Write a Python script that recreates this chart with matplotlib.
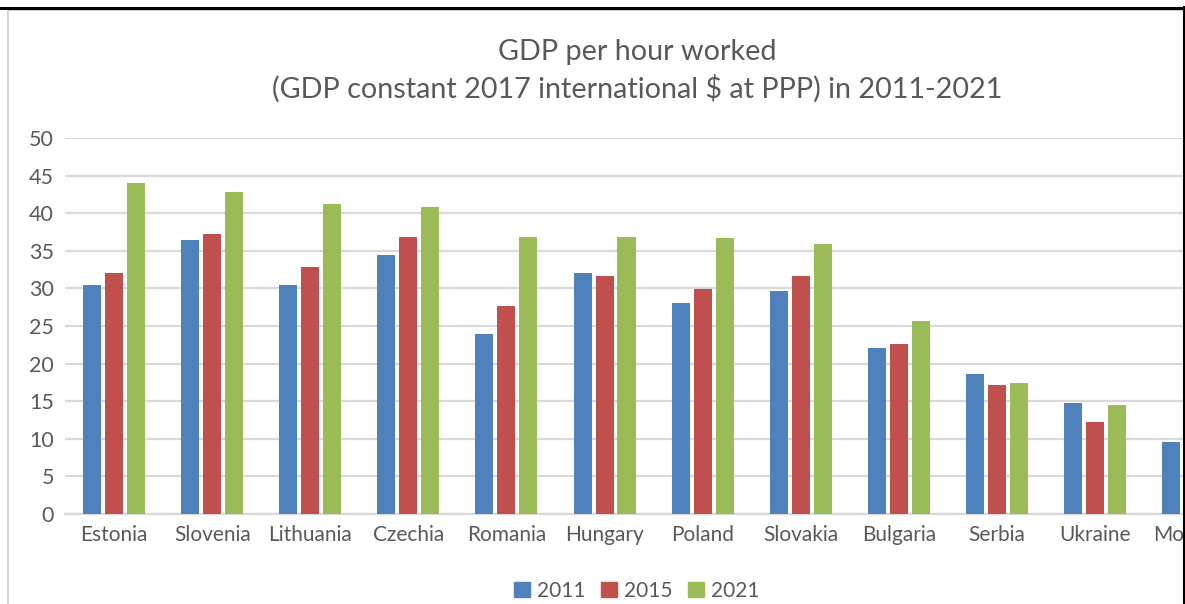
import numpy as np
import matplotlib
matplotlib.use("Agg")
import matplotlib.pyplot as plt
from matplotlib.lines import Line2D
from matplotlib.patches import Patch

countries = ["Estonia", "Slovenia", "Lithuania", "Czechia", "Romania", "Hungary",
             "Poland", "Slovakia", "Bulgaria", "Serbia", "Ukraine", "Moldova"]
years = ["2011", "2015", "2021"]
v2011 = [30.4, 36.4, 30.4, 34.4, 23.9, 32.0, 28.0, 29.6, 22.1, 18.6, 14.8, 9.6]
v2015 = [32.0, 37.2, 32.9, 36.8, 27.6, 31.7, 29.9, 31.6, 22.6, 17.2, 12.2, np.nan]
v2021 = [44.0, 42.8, 41.2, 40.8, 36.9, 36.8, 36.7, 35.9, 25.6, 17.4, 14.5, np.nan]
colors = ["#4F81BD", "#C0504D", "#9BBB59"]
yticks = [0, 5, 10, 15, 20, 25, 30, 35, 40, 45, 50]

FONT = "Lato"
TXT = "#595959"
W, H = 1185, 604
fig = plt.figure(figsize=(W / 100, H / 100), dpi=100)
fig.patch.set_facecolor("white")

# axes placement in pixels
left_px, right_px = 65, 114 + 11.5 * 98.1
bot_px, top_px = 513.7, 138.3
ax = fig.add_axes([left_px / W, (H - bot_px) / H, (right_px - left_px) / W, (bot_px - top_px) / H])

x = np.arange(len(countries))
bw = 0.184
off = 0.224
for i, (vals, c) in enumerate(zip([v2011, v2015, v2021], colors)):
    ax.bar(x + (i - 1) * off, vals, width=bw, color=c, zorder=3, clip_on=False)

ax.set_xlim(-0.5, len(countries) - 0.5)
ax.set_ylim(0, 50)
ax.set_yticks(yticks)
ax.yaxis.grid(True, color="#D9D9D9", linewidth=1.6, zorder=0)
ax.set_axisbelow(True)
for s in ["top", "right", "left"]:
    ax.spines[s].set_visible(False)
ax.spines["bottom"].set_color("#D9D9D9")
ax.spines["bottom"].set_linewidth(1.6)
ax.tick_params(axis="both", length=0, labelcolor=TXT)
ax.tick_params(axis="y", pad=8, labelsize=15.5)
ax.tick_params(axis="x", pad=8, labelsize=15)
ax.set_xticks(x)
ax.set_xticklabels(countries, fontfamily=FONT)
for lab in ax.get_yticklabels():
    lab.set_fontfamily(FONT)

fig.text(637 / W, 1 - 52 / H, "GDP per hour worked", ha="center", va="center",
         fontsize=20.7, color=TXT, fontfamily=FONT)
fig.text(637 / W, 1 - 89 / H, "(GDP constant 2017 international $ at PPP) in 2011-2021",
         ha="center", va="center", fontsize=20.7, color=TXT, fontfamily=FONT)

handles = [Patch(facecolor=c, edgecolor=c) for c in colors]
fig.legend(handles, years, loc="center", bbox_to_anchor=(637 / W, 1 - 591 / H), ncol=3,
           frameon=False, prop={"family": FONT, "size": 15}, labelcolor=TXT,
           handlelength=0.75, handleheight=0.7, handletextpad=0.35, columnspacing=0.75)

# frame lines
def px_line(x0, y0, x1, y1, color, lw):
    fig.add_artist(Line2D([x0 / W, x1 / W], [1 - y0 / H, 1 - y1 / H], color=color,
                          linewidth=lw, transform=fig.transFigure, zorder=10))

px_line(8, 10, W, 10, "#D0D0D0", 1.2)
px_line(8, 10, 8, H, "#D0D0D0", 1.2)
px_line(0, 7.5, W, 7.5, "black", 2.2)
px_line(1184.2, 7, 1184.2, H, "black", 2.2)

fig.savefig("out.png", dpi=100)
